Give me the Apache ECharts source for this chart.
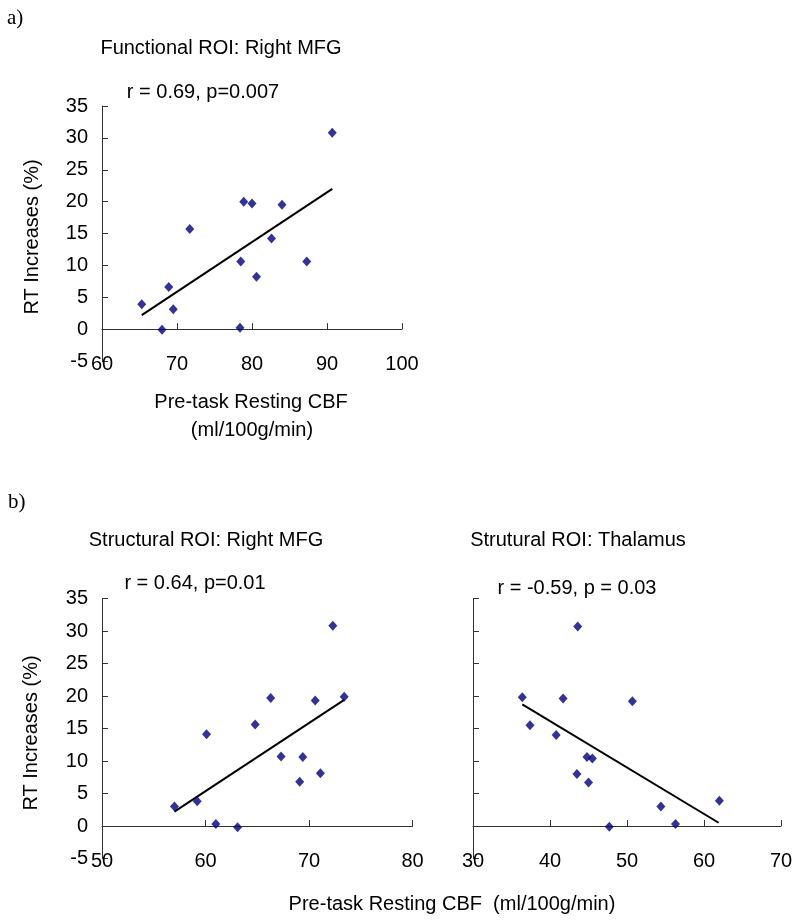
<!DOCTYPE html>
<html>
<head>
<meta charset="utf-8">
<script src="https://cdn.jsdelivr.net/npm/echarts@6/dist/echarts.min.js"></script>
<style>
  html, body { margin: 0; padding: 0; background: #fff; }
  #chart { width: 798px; height: 923px; }
</style>
</head>
<body>
<div id="chart"></div>
<script>
// values
const yTicks = [-5, 35, 5];

// a) Functional ROI: Right MFG
const aCBF = [65.3, 68.0, 68.9, 69.5, 71.7, 78.5, 78.4, 78.9, 80.0, 80.6, 82.6, 84.0, 87.3, 90.7];
const aRT = [3.9, -0.1, 6.6, 3.1, 15.7, 10.6, 0.2, 20.0, 19.7, 8.2, 14.2, 19.5, 10.6, 30.8];
const aFitX = [65.3, 90.7];
const aFitY = [2.2, 22.0];

// b) Structural ROI: Right MFG
const bmCBF = [57.0, 59.2, 60.1, 61.0, 63.1, 64.8, 66.3, 67.3, 69.1, 69.4, 70.6, 71.1, 72.3, 73.4];
const bmRT = [3.0, 3.8, 14.1, 0.3, -0.2, 15.6, 19.7, 10.7, 6.8, 10.6, 19.3, 8.1, 30.8, 19.9];
const bmFitX = [57.0, 73.4];
const bmFitY = [2.2, 19.4];

// b) Strutural ROI: Thalamus
const btCBF = [36.4, 37.4, 40.8, 41.7, 43.6, 43.5, 44.8, 45.5, 45.0, 47.7, 50.7, 54.4, 56.3, 62.0];
const btRT = [19.8, 15.5, 14.0, 19.6, 30.7, 8.0, 10.6, 10.4, 6.7, -0.1, 19.2, 3.0, 0.3, 3.9];
const btFitX = [36.4, 61.9];
const btFitY = [18.7, 0.5];

const xRanges = [[60, 100, 10], [50, 80, 10], [30, 70, 10]];

const FONT = '"Liberation Sans", Arial, sans-serif';
const SERIF = '"Liberation Serif", "Times New Roman", serif';
const axisColor = '#333';
const TXT = 20;

function pairs(xs, ys) {
  return xs.map((x, i) => [x, ys[i]]);
}

const grids = [
  { left: 102, top: 106, width: 300, height: 255 },
  { left: 102, top: 598.5, width: 310.5, height: 260 },
  { left: 473, top: 598.5, width: 308, height: 260 }
];

const xAxis = [];
const yAxis = [];
const series = [];

xRanges.forEach((r, g) => {
  // labels along the bottom edge
  xAxis.push({
    type: 'value', gridIndex: g, position: 'bottom',
    min: r[0], max: r[1], interval: r[2],
    axisLine: { show: false, onZero: false },
    axisTick: { show: false },
    splitLine: { show: false },
    axisLabel: { color: '#000', fontSize: TXT, fontFamily: FONT, margin: -7 }
  });
  // axis line crossing at zero with upward ticks
  xAxis.push({
    type: 'value', gridIndex: g, position: 'top',
    min: r[0], max: r[1], interval: r[2],
    axisLine: { show: true, onZero: true, lineStyle: { color: axisColor, width: 1 } },
    axisTick: { show: true, length: 6, lineStyle: { color: axisColor } },
    splitLine: { show: false },
    axisLabel: { show: false }
  });
  yAxis.push({
    type: 'value', gridIndex: g,
    min: yTicks[0], max: yTicks[1], interval: yTicks[2],
    axisLine: { show: true, onZero: false, lineStyle: { color: axisColor, width: 1 } },
    axisTick: { show: true, inside: true, length: 6, lineStyle: { color: axisColor } },
    splitLine: { show: false },
    axisLabel: { show: g !== 2, color: '#000', fontSize: TXT, fontFamily: FONT, margin: 14 }
  });
});

const panels = [
  [aCBF, aRT, aFitX, aFitY],
  [bmCBF, bmRT, bmFitX, bmFitY],
  [btCBF, btRT, btFitX, btFitY]
];

panels.forEach((p, g) => {
  series.push({
    type: 'scatter', xAxisIndex: g * 2, yAxisIndex: g,
    symbol: 'diamond', symbolSize: [9, 10],
    itemStyle: { color: '#00007a' },
    data: pairs(p[0], p[1]),
    z: 3
  });
  series.push({
    type: 'line', xAxisIndex: g * 2, yAxisIndex: g,
    showSymbol: false, symbol: 'none',
    lineStyle: { color: '#000', width: 2 },
    data: pairs(p[2], p[3]),
    z: 2
  });
});

function label(text, x, y, size, opts) {
  return Object.assign({
    type: 'text', x: x, y: y,
    style: {
      text: text, fill: '#000', fontSize: size, fontFamily: FONT,
      textAlign: 'center', textVerticalAlign: 'middle'
    }
  }, opts || {});
}

function letter(text, x, y) {
  return {
    type: 'text', x: x, y: y,
    style: { text: text, fill: '#000', fontSize: 21, fontFamily: SERIF, textAlign: 'left', textVerticalAlign: 'middle' }
  };
}

const graphic = [
  letter('a)', 7, 18),
  label('Functional ROI: Right MFG', 221, 48, TXT),
  label('r = 0.69, p=0.007', 203, 92, TXT),
  label('RT Increases (%)', 32, 237, TXT, { rotation: Math.PI / 2 }),
  label('Pre-task Resting CBF', 251, 402, TXT),
  label('(ml/100g/min)', 252, 430, TXT),

  letter('b)', 8, 502),
  label('Structural ROI: Right MFG', 206, 540, TXT),
  label('r = 0.64, p=0.01', 195, 583, TXT),
  label('Strutural ROI: Thalamus', 578, 540, TXT),
  label('r = -0.59, p = 0.03', 577, 588, TXT),
  label('RT Increases (%)', 31, 733, TXT, { rotation: Math.PI / 2 }),
  label('Pre-task Resting CBF  (ml/100g/min)', 452, 904, TXT)
];

const chart = echarts.init(document.getElementById('chart'), null, { renderer: 'canvas' });
chart.setOption({
  animation: false,
  backgroundColor: '#fff',
  grid: grids,
  xAxis: xAxis,
  yAxis: yAxis,
  series: series,
  graphic: graphic
});
</script>
</body>
</html>
